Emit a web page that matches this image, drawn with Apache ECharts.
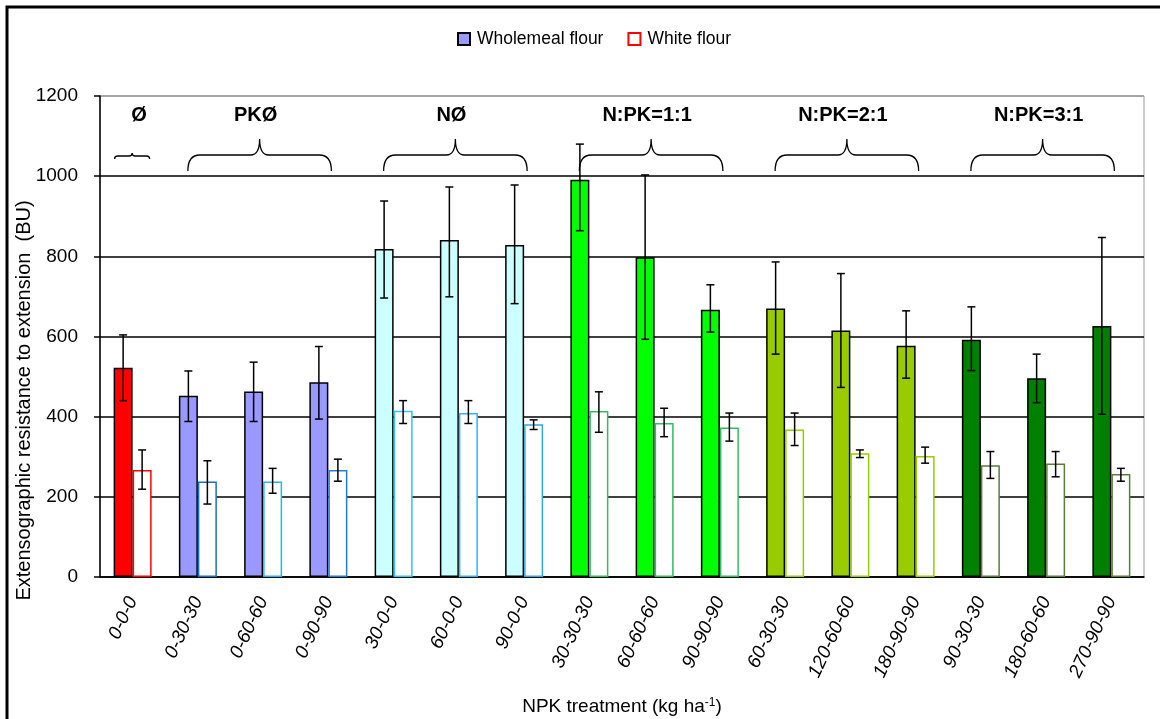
<!DOCTYPE html>
<html>
<head>
<meta charset="utf-8">
<script src="https://cdn.jsdelivr.net/npm/echarts@6/dist/echarts.min.js"></script>
<style>
html,body{margin:0;padding:0;background:#fff;}
#chart{width:1160px;height:719px;}
</style>
</head>
<body>
<div id="chart"></div>
<script>
// treatments (N-P-K, kg/ha)
var categories = ['0-0-0','0-30-30','0-60-60','0-90-90','30-0-0','60-0-0','90-0-0','30-30-30','60-60-60','90-90-90','60-30-30','120-60-60','180-90-90','90-30-30','180-60-60','270-90-90'];
// wholemeal flour: mean, error bar ends
var wholemeal     = [522, 452, 463, 486, 818, 841, 828, 991, 798, 667, 670, 615, 577, 592, 496, 626];
var wholemealLow  = [440, 388, 388, 394, 696, 699, 682, 864, 593, 611, 556, 473, 496, 515, 435, 406];
var wholemealHigh = [604, 514, 536, 575, 938, 973, 978, 1080, 1003, 729, 786, 757, 664, 674, 556, 847];
// white flour
var white     = [267, 238, 238, 267, 415, 409, 381, 414, 384, 373, 368, 309, 302, 279, 283, 257];
var whiteLow  = [219, 182, 209, 239, 383, 383, 368, 361, 350, 339, 328, 298, 284, 246, 250, 239];
var whiteHigh = [317, 290, 271, 294, 440, 440, 392, 462, 421, 409, 409, 317, 324, 313, 313, 271];
// treatment groups (first / last category index)
var groupNames = ['Ø', 'PKØ', 'NØ', 'N:PK=1:1', 'N:PK=2:1', 'N:PK=3:1'];
var groupStart = [0, 1, 4, 7, 10, 13];
var groupEnd   = [0, 3, 6, 9, 12, 15];

// colours per treatment
var fillColors = ['#ff0000','#9999ff','#9999ff','#9999ff','#ccffff','#ccffff','#ccffff','#00ff00','#00ff00','#00ff00','#99cc00','#99cc00','#99cc00','#008000','#008000','#008000'];
var edgeColors = ['#ff0000','#1a6fc0','#22b5ee','#2a7ccc','#33c3ef','#33b5e8','#33a8dc','#33bb66','#33bb66','#33bb66','#99cc00','#99cc00','#99cc00','#5a7d3c','#5a7d3c','#5a7d3c'];

var FONT = '"Liberation Sans", Arial, sans-serif';
var BAR_W = 19;

var myChart = echarts.init(document.getElementById('chart'));

function errorBars(side){
	return function(params, api){
		var i = api.value(0);
		var x = api.coord([i, 0])[0] + side * BAR_W / 2;
		var lo = api.coord([i, api.value(1)])[1];
		var hi = api.coord([i, api.value(2)])[1];
		var c = 4;
		var st = {stroke: '#000', lineWidth: 1.5};
		return {type: 'group', children: [
			{type: 'line', shape: {x1: x, y1: hi, x2: x, y2: lo}, style: st},
			{type: 'line', shape: {x1: x - c, y1: hi, x2: x + c, y2: hi}, style: st},
			{type: 'line', shape: {x1: x - c, y1: lo, x2: x + c, y2: lo}, style: st}
		]};
	};
}

// curly braces + group labels above the bars
function renderBrace(params, api){
	var s = api.value(0), e = api.value(1);
	var top = api.coord([s, 1200])[1];
	var single = s === e;
	var x1 = api.coord([s, 0])[0] + (single ? -18 : -10);
	var x2 = api.coord([e, 0])[0] + (single ? 17 : 3);
	var m = (x1 + x2) / 2;
	var yTip = top + (single ? 57 : 43);
	var yMid = top + (single ? 60 : 59);
	var yEnd = top + (single ? 63 : 75);
	var r = single ? 3 : 12;
	var t = single ? 3 : 9;
	var d = 'M' + x1 + ' ' + yEnd +
		' Q' + x1 + ' ' + yMid + ' ' + (x1 + r) + ' ' + yMid +
		' L' + (m - t) + ' ' + yMid +
		' Q' + m + ' ' + yMid + ' ' + m + ' ' + yTip +
		' Q' + m + ' ' + yMid + ' ' + (m + t) + ' ' + yMid +
		' L' + (x2 - r) + ' ' + yMid +
		' Q' + x2 + ' ' + yMid + ' ' + x2 + ' ' + yEnd;
	return {type: 'group', children: [
		{type: 'path', shape: {pathData: d}, style: {stroke: '#000', lineWidth: 1.3, fill: null}},
		{type: 'text', x: m + (single ? 7 : -4), y: top + 19, style: {
			text: groupNames[params.dataIndex], fill: '#000',
			font: 'bold 20px "Liberation Sans", Arial, sans-serif',
			align: 'center', verticalAlign: 'middle'
		}}
	]};
}

var wholeData = wholemeal.map(function(v, i){
	return {value: v, itemStyle: {color: fillColors[i]}};
});
var whiteData = white.map(function(v, i){
	return {value: v, itemStyle: {borderColor: edgeColors[i]}};
});
var wholeErr = wholemeal.map(function(v, i){ return [i, wholemealLow[i], wholemealHigh[i]]; });
var whiteErr = white.map(function(v, i){ return [i, whiteLow[i], whiteHigh[i]]; });
var braceData = groupNames.map(function(g, i){ return [groupStart[i], groupEnd[i]]; });

var option = {
	animation: false,
	backgroundColor: '#fff',
	textStyle: {fontFamily: FONT, color: '#000'},
	legend: {
		top: 25,
		left: 452,
		itemWidth: 12,
		itemHeight: 12,
		itemGap: 24,
		icon: 'rect',
		data: ['Wholemeal flour', 'White flour'],
		textStyle: {fontFamily: FONT, fontSize: 17.5, color: '#000', padding: [0, 0, 0, 2]}
	},
	grid: {
		left: 100, right: 16, top: 96, bottom: 142,
		outerBoundsMode: 'none',
		containLabel: false,
		show: true, borderColor: '#9a9a9a', borderWidth: 1
	},
	xAxis: {
		type: 'category',
		data: categories,
		axisLine: {lineStyle: {color: '#000', width: 1.5}},
		axisTick: {length: 6, lineStyle: {color: '#000', width: 1.5}},
		axisLabel: {
			interval: 0, rotate: 65, margin: 21,
			fontFamily: FONT, fontSize: 19, fontStyle: 'italic', color: '#000'
		},
		name: '{a|NPK treatment (kg ha}{s|-1}{a|)}',
		nameLocation: 'middle',
		nameGap: 120,
		nameMoveOverlap: false,
		nameTextStyle: {
			rich: {
				a: {fontFamily: FONT, fontSize: 19, color: '#000'},
				s: {fontFamily: FONT, fontSize: 12, color: '#000', verticalAlign: 'top', padding: [0, 0, 8, 0]}
			}
		}
	},
	yAxis: {
		type: 'value',
		min: 0, max: 1200, interval: 200,
		axisLine: {show: true, lineStyle: {color: '#000', width: 1.5}},
		axisTick: {show: true, length: 6, lineStyle: {color: '#000', width: 1.5}},
		axisLabel: {
			margin: 22, fontFamily: FONT, fontSize: 19, color: '#000',
			formatter: function(v){ return String(v); }
		},
		splitLine: {lineStyle: {color: ['#000','#000','#000','#000','#000','#000','#9a9a9a'], width: 1.5}},
		name: 'Extensographic resistance to extension  (BU)',
		nameLocation: 'middle',
		nameGap: 66,
		nameMoveOverlap: false,
		nameTextStyle: {fontFamily: FONT, fontSize: 20, color: '#000', padding: [0, 128, 0, 0]}
	},
	series: [
		{
			name: 'Wholemeal flour',
			type: 'bar',
			barWidth: BAR_W,
			barGap: '0%',
			itemStyle: {color: '#9999ff', borderColor: '#000', borderWidth: 1.5},
			data: wholeData,
			z: 2
		},
		{
			name: 'White flour',
			type: 'bar',
			barWidth: BAR_W,
			barGap: '0%',
			itemStyle: {color: '#fff', borderColor: '#ff0000', borderWidth: 1.5},
			data: whiteData,
			z: 2
		},
		{
			type: 'custom',
			renderItem: errorBars(-1),
			encode: {x: 0, y: [1, 2]},
			data: wholeErr,
			z: 5
		},
		{
			type: 'custom',
			renderItem: errorBars(1),
			encode: {x: 0, y: [1, 2]},
			data: whiteErr,
			z: 5
		},
		{
			type: 'custom',
			renderItem: renderBrace,
			encode: {x: [0, 1]},
			data: braceData,
			clip: false,
			silent: true,
			z: 6
		}
	],
	graphic: [
		{type: 'polyline', shape: {points: [[7, 719], [7, 7], [1160, 7]]}, style: {stroke: '#000', lineWidth: 3, fill: null}}
	]
};
myChart.setOption(option);
</script>
</body>
</html>
